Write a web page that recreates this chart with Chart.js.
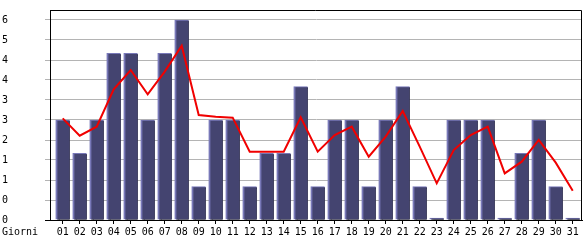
<!DOCTYPE html>
<html><head><meta charset="utf-8">
<script src="https://cdn.jsdelivr.net/npm/chart.js@4"></script>
<style>html,body{margin:0;padding:0;background:#fff;overflow:hidden}</style>
</head><body>
<canvas id="c" width="585" height="240"></canvas>
<script>
const categories = ['01','02','03','04','05','06','07','08','09','10','11','12','13','14','15','16','17','18','19','20','21','22','23','24','25','26','27','28','29','30','31'];
const visits = [3,2,3,5,5,3,5,6,1,3,3,1,2,2,4,1,3,3,1,3,4,1,0,3,3,3,0,2,3,1,0];
const trend = [3.05,2.53,2.8,3.92,4.5,3.77,4.45,5.23,3.15,3.1,3.07,2.05,2.05,2.05,3.08,2.05,2.55,2.8,1.9,2.5,3.27,2.2,1.1,2.1,2.55,2.8,1.4,1.75,2.4,1.72,0.88];
const yTickValues = [0,0.6,1.2,1.8,2.4,3.0,3.6,4.2,4.8,5.4,6.0];
const yTickLabels = ['0','0','1','1','2','3','3','4','4','5','6'];
const axisTitle = 'Giorni';

const FONT = {family: '"DejaVu Sans Mono", monospace', size: 10};

const barShadow = {
  id: 'barShadow',
  beforeDatasetDraw(chart, args) {
    if (args.meta.type !== 'bar') return;
    const ctx = chart.ctx;
    ctx.save();
    ctx.shadowColor = '#000';
    ctx.shadowOffsetX = 2;
    ctx.shadowOffsetY = 1;
    ctx.shadowBlur = 0;
  },
  afterDatasetDraw(chart, args) {
    if (args.meta.type !== 'bar') return;
    chart.ctx.restore();
  }
};

const frame = {
  id: 'frame',
  afterDraw(chart) {
    const {ctx, chartArea: a} = chart;
    ctx.save();
    ctx.strokeStyle = '#000';
    ctx.lineWidth = 1;
    ctx.beginPath();
    ctx.moveTo(a.left, a.top + 0.5);
    ctx.lineTo(a.right - 0.5, a.top + 0.5);
    ctx.lineTo(a.right - 0.5, a.bottom);
    ctx.stroke();
    ctx.fillStyle = '#000';
    ctx.font = '10px "DejaVu Sans Mono", monospace';
    ctx.textBaseline = 'middle';
    ctx.textAlign = 'left';
    ctx.fillText(axisTitle, 2, 232);
    ctx.restore();
  }
};

new Chart(document.getElementById('c'), {
  data: {
    datasets: [
      {
        type: 'line',
        data: trend.map((v, i) => ({x: i + 1, y: v})),
        borderColor: '#f00000',
        borderWidth: 2,
        pointRadius: 0,
        tension: 0,
        fill: false,
        order: 1
      },
      {
        type: 'bar',
        data: visits.map((v, i) => ({x: i + 1, y: v})),
        backgroundColor: '#444470',
        borderColor: '#7878b8',
        borderWidth: {left: 2, top: 1, right: 0, bottom: 0},
        borderSkipped: false,
        barThickness: 14,
        minBarLength: 2,
        order: 2
      }
    ]
  },
  options: {
    responsive: false,
    animation: false,
    devicePixelRatio: 1,
    layout: {padding: {left: 2, right: 3, top: 10, bottom: 0}},
    plugins: {legend: {display: false}, tooltip: {enabled: false}},
    scales: {
      x: {
        type: 'linear',
        offset: false,
        min: 0.253,
        max: 31.545,
        afterBuildTicks: s => { s.ticks = categories.map((c, i) => ({value: i + 1})); },
        afterFit: s => { s.height = 20; s.paddingLeft = 0; s.paddingRight = 0; },
        ticks: {
          autoSkip: false, maxRotation: 0, color: '#000', font: FONT, padding: 2,
          callback: v => categories[Math.round(v) - 1]
        },
        grid: {offset: false, drawOnChartArea: false, drawTicks: true, tickLength: 4, tickColor: '#000'},
        border: {display: true, color: '#000', width: 1}
      },
      y: {
        type: 'linear',
        min: 0,
        max: 6.3,
        afterBuildTicks: s => { s.ticks = yTickValues.map(v => ({value: v})); },
        afterFit: s => { s.width = 48; s.paddingTop = 0; s.paddingBottom = 0; },
        ticks: {
          color: '#000', font: FONT, crossAlign: 'far', autoSkip: false,
          callback: (v, i) => yTickLabels[i]
        },
        grid: {color: '#b4b4b4', tickLength: 5, tickColor: c => c.index === 0 ? '#000' : '#b4b4b4'},
        border: {display: true, color: '#000', width: 1}
      }
    }
  },
  plugins: [barShadow, frame]
});
</script>
</body></html>
